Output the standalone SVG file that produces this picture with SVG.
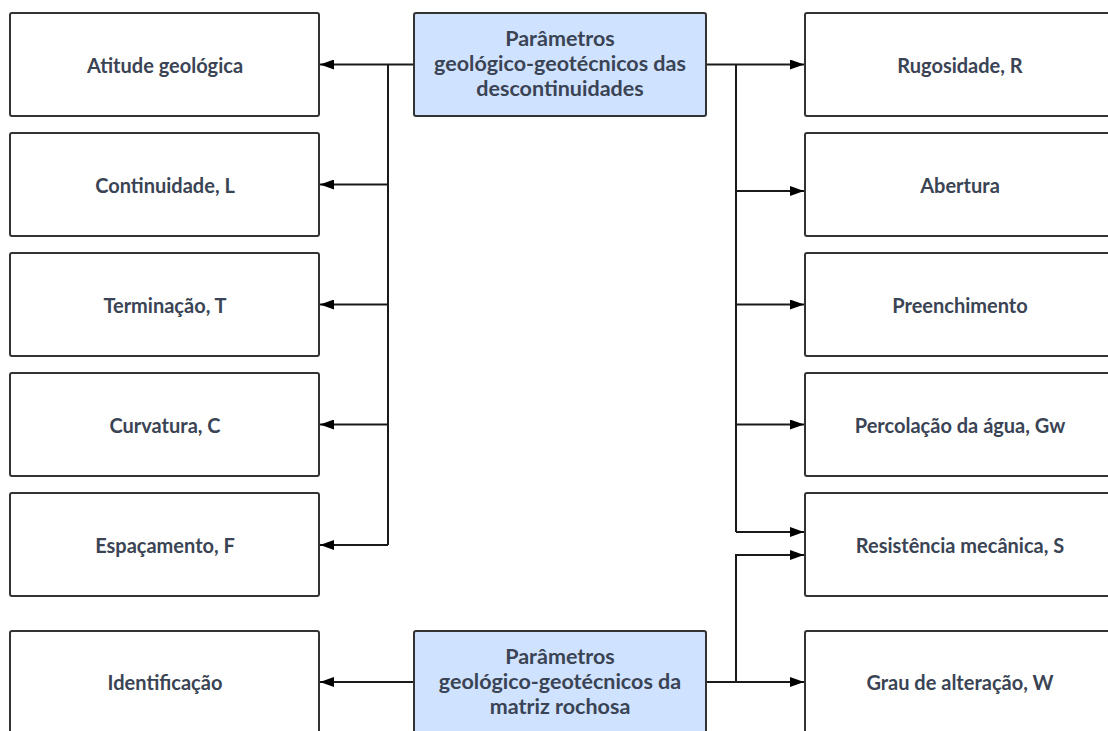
<svg xmlns="http://www.w3.org/2000/svg" width="1108" height="731" viewBox="0 0 1108 731">
  <style>
    .box { fill: #ffffff; stroke: #333333; stroke-width: 2; }
    .hub { fill: #cfe2ff; stroke: #333333; stroke-width: 2; }
    .lbl { font-family: Lato, "Liberation Sans", sans-serif; font-weight: bold; font-size: 20px; fill: #3a4454; text-anchor: middle; }
    .hubtxt { font-size: 21.5px; }
    .wire { fill: none; stroke: #1a1a1a; stroke-width: 2; }
    .arr { marker-end: url(#head); }
  </style>
  <defs>
    <marker id="head" viewBox="0 0 14 10" refX="14" refY="5" markerWidth="14" markerHeight="10" markerUnits="userSpaceOnUse" orient="auto">
      <path d="M0,0 L14,5 L0,10 Z" fill="#000000"/>
    </marker>
  </defs>

  <!-- connectors -->
  <g id="connectors">
    <!-- left fan from the upper hub -->
    <path class="wire arr" d="M414,64.5 H320"/>
    <path class="wire" d="M388,64.5 V545"/>
    <path class="wire arr" d="M388,184.5 H320"/>
    <path class="wire arr" d="M388,304.5 H320"/>
    <path class="wire arr" d="M388,424.5 H320"/>
    <path class="wire arr" d="M388,545 H320"/>
    <!-- right fan from the upper hub -->
    <path class="wire arr" d="M706,64.5 H804"/>
    <path class="wire" d="M736,64.5 V532"/>
    <path class="wire arr" d="M736,191 H804"/>
    <path class="wire arr" d="M736,304.5 H804"/>
    <path class="wire arr" d="M736,424.5 H804"/>
    <path class="wire arr" d="M736,532 H804"/>
    <!-- lower hub -->
    <path class="wire arr" d="M414,682 H320"/>
    <path class="wire arr" d="M706,682 H804"/>
    <path class="wire arr" d="M736,682 V555 H804"/>
  </g>

  <!-- hubs -->
  <g id="hub-descontinuidades">
    <rect class="hub" x="414" y="13" width="292" height="103" rx="2"/>
    <text class="lbl hubtxt" x="560" y="46">Parâmetros</text>
    <text class="lbl hubtxt" x="560" y="71">geológico-geotécnicos das</text>
    <text class="lbl hubtxt" x="560" y="96">descontinuidades</text>
  </g>
  <g id="hub-matriz">
    <rect class="hub" x="414" y="631" width="292" height="103" rx="2"/>
    <text class="lbl hubtxt" x="560" y="664">Parâmetros</text>
    <text class="lbl hubtxt" x="560" y="689">geológico-geotécnicos da</text>
    <text class="lbl hubtxt" x="560" y="714">matriz rochosa</text>
  </g>

  <!-- left column -->
  <g id="atitude">
    <rect class="box" x="10" y="13" width="309" height="103" rx="2"/>
    <text class="lbl" x="165" y="72.5">Atitude geológica</text>
  </g>
  <g id="continuidade">
    <rect class="box" x="10" y="133" width="309" height="103" rx="2"/>
    <text class="lbl" x="165" y="192.5">Continuidade, L</text>
  </g>
  <g id="terminacao">
    <rect class="box" x="10" y="253" width="309" height="103" rx="2"/>
    <text class="lbl" x="165" y="312.5">Terminação, T</text>
  </g>
  <g id="curvatura">
    <rect class="box" x="10" y="373" width="309" height="103" rx="2"/>
    <text class="lbl" x="165" y="432.5">Curvatura, C</text>
  </g>
  <g id="espacamento">
    <rect class="box" x="10" y="493" width="309" height="103" rx="2"/>
    <text class="lbl" x="165" y="552.5">Espaçamento, F</text>
  </g>
  <g id="identificacao">
    <rect class="box" x="10" y="631" width="309" height="103" rx="2"/>
    <text class="lbl" x="165" y="689.5">Identificação</text>
  </g>

  <!-- right column -->
  <g id="rugosidade">
    <rect class="box" x="805" y="13" width="309" height="103" rx="2"/>
    <text class="lbl" x="960" y="72.5">Rugosidade, R</text>
  </g>
  <g id="abertura">
    <rect class="box" x="805" y="133" width="309" height="103" rx="2"/>
    <text class="lbl" x="960" y="192.5">Abertura</text>
  </g>
  <g id="preenchimento">
    <rect class="box" x="805" y="253" width="309" height="103" rx="2"/>
    <text class="lbl" x="960" y="312.5">Preenchimento</text>
  </g>
  <g id="percolacao">
    <rect class="box" x="805" y="373" width="309" height="103" rx="2"/>
    <text class="lbl" x="960" y="432.5">Percolação da água, Gw</text>
  </g>
  <g id="resistencia">
    <rect class="box" x="805" y="493" width="309" height="103" rx="2"/>
    <text class="lbl" x="960" y="552.5">Resistência mecânica, S</text>
  </g>
  <g id="alteracao">
    <rect class="box" x="805" y="631" width="309" height="103" rx="2"/>
    <text class="lbl" x="960" y="689.5">Grau de alteração, W</text>
  </g>
</svg>
